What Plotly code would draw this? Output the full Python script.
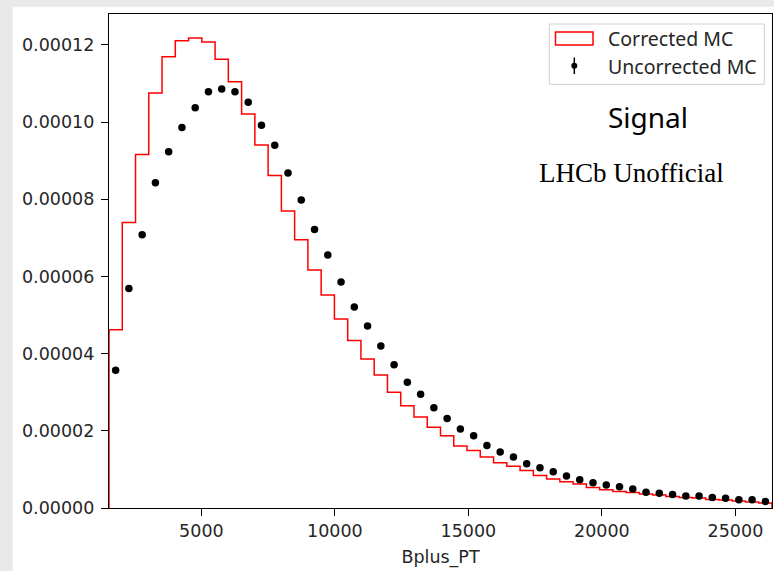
import numpy as np
import plotly.graph_objects as go

# ---------------- data ----------------
x_min, x_max, n_bins = 1540.0, 26370.0, 50

corrected_mc = [
    4.62e-5, 7.40e-5, 9.16e-5, 1.0756e-4, 1.1697e-4, 1.211e-4, 1.218e-4, 1.208e-4, 1.163e-4, 1.105e-4,
    1.021e-4, 9.41e-5, 8.62e-5, 7.70e-5, 6.95e-5, 6.17e-5, 5.52e-5, 4.90e-5, 4.34e-5, 3.86e-5,
    3.45e-5, 3.00e-5, 2.65e-5, 2.36e-5, 2.09e-5, 1.87e-5, 1.61e-5, 1.49e-5, 1.32e-5, 1.17e-5,
    1.08e-5, 9.7e-6, 8.4e-6, 7.5e-6, 6.8e-6, 6.2e-6, 5.3e-6, 4.7e-6, 4.3e-6, 4.0e-6,
    3.6e-6, 3.4e-6, 3.0e-6, 2.75e-6, 2.6e-6, 2.2e-6, 2.1e-6, 1.8e-6, 1.55e-6, 1.3e-6,
]

uncorrected_mc = [
    3.57e-5, 5.69e-5, 7.08e-5, 8.43e-5, 9.23e-5, 9.86e-5, 1.0375e-4, 1.079e-4, 1.086e-4, 1.079e-4,
    1.0515e-4, 9.92e-5, 9.40e-5, 8.68e-5, 7.98e-5, 7.22e-5, 6.56e-5, 5.86e-5, 5.21e-5, 4.72e-5,
    4.20e-5, 3.71e-5, 3.26e-5, 2.95e-5, 2.60e-5, 2.32e-5, 2.05e-5, 1.87e-5, 1.62e-5, 1.45e-5,
    1.32e-5, 1.15e-5, 1.04e-5, 9.4e-6, 8.3e-6, 7.3e-6, 6.55e-6, 5.96e-6, 5.5e-6, 4.9e-6,
    4.1e-6, 3.8e-6, 3.5e-6, 3.1e-6, 3.1e-6, 2.75e-6, 2.5e-6, 2.15e-6, 2.15e-6, 1.7e-6,
]

x_tick_vals = [5000, 10000, 15000, 20000, 25000]
y_tick_vals = [0.0, 0.00002, 0.00004, 0.00006, 0.00008, 0.00010, 0.00012]
y_top = 1.2803e-4

x_title = "Bplus_PT"
legend_labels = ["Corrected MC", "Uncorrected MC"]
label_signal = "Signal"
label_lhcb = "LHCb Unofficial"

# ---------------- build ----------------
edges = np.linspace(x_min, x_max, n_bins + 1)
centers = 0.5 * (edges[:-1] + edges[1:])

step_x = [edges[0]] + list(edges) + [edges[-1]]
step_y = [0.0] + list(corrected_mc) + [corrected_mc[-1], 0.0]
step_x = [edges[0], edges[0]] + list(edges[1:]) + [edges[-1]]
step_y = [0.0] + list(corrected_mc) + [corrected_mc[-1], 0.0]

W, H = 774, 571
L, R, T, B = 109, 772, 14, 508


def xp(px):
    return (px - L) / (R - L)


def yp(py):
    return (B - py) / (B - T)


fig = go.Figure()
fig.add_trace(go.Scatter(
    x=step_x, y=step_y, mode="lines", line=dict(color="#ff0000", width=1.5, shape="hv"),
    name=legend_labels[0], showlegend=False, hoverinfo="skip",
))
fig.add_trace(go.Scatter(
    x=centers, y=uncorrected_mc, mode="markers",
    marker=dict(color="black", size=7.5, line=dict(width=0)),
    name=legend_labels[1], showlegend=False, cliponaxis=False,
))

tick_font = dict(family="DejaVu Sans", size=17.5, color="#262626")

fig.update_xaxes(
    range=[x_min, x_max], tickvals=x_tick_vals, tickformat="d",
    showline=True, linecolor="black", linewidth=1.3, mirror=True,
    ticks="outside", ticklen=7, tickwidth=1.3, tickcolor="black",
    showgrid=False, zeroline=False, tickfont=tick_font,
    title=dict(text=x_title, font=tick_font, standoff=10),
)
fig.update_yaxes(
    range=[0, y_top], tickvals=y_tick_vals, tickformat=".5f",
    showline=True, linecolor="black", linewidth=1.3, mirror=True,
    ticks="outside", ticklen=7, tickwidth=1.3, tickcolor="black",
    showgrid=False, zeroline=False, tickfont=tick_font, ticklabelstandoff=3,
)

shapes = []
# white figure area over the grey frame
shapes.append(dict(type="rect", xref="paper", yref="paper", layer="below",
                   x0=xp(12.7), x1=xp(790), y0=yp(6.7), y1=yp(600),
                   fillcolor="white", line=dict(width=0)))
# legend box
shapes.append(dict(type="rect", xref="paper", yref="paper",
                   x0=xp(549.3), x1=xp(764.3), y0=yp(24), y1=yp(84.3),
                   fillcolor="rgba(255,255,255,0.8)", line=dict(color="#d0d0d0", width=1)))
# legend key: red hist patch
shapes.append(dict(type="rect", xref="paper", yref="paper",
                   x0=xp(555.5), x1=xp(593), y0=yp(32), y1=yp(45),
                   fillcolor="rgba(0,0,0,0)", line=dict(color="#ff0000", width=1.5)))
# legend key: errorbar marker
shapes.append(dict(type="line", xref="paper", yref="paper",
                   x0=xp(574.3), x1=xp(574.3), y0=yp(57.5), y1=yp(74),
                   line=dict(color="black", width=1.5)))
shapes.append(dict(type="circle", xref="paper", yref="paper",
                   x0=xp(571.3), x1=xp(577.3), y0=yp(62.7), y1=yp(68.7),
                   fillcolor="black", line=dict(width=0)))

legend_font = dict(family="Noto Sans", size=19.5, color="#262626")
annotations = [
    dict(text=legend_labels[0], xref="paper", yref="paper", x=xp(606), y=yp(38),
         xanchor="left", yanchor="middle", showarrow=False, font=legend_font),
    dict(text=legend_labels[1], xref="paper", yref="paper", x=xp(606), y=yp(66),
         xanchor="left", yanchor="middle", showarrow=False, font=legend_font),
    dict(text=label_signal, xref="paper", yref="paper", x=xp(648), y=yp(117),
         xanchor="center", yanchor="middle", showarrow=False,
         font=dict(family="Noto Sans", size=28, color="black")),
    dict(text=label_lhcb, xref="paper", yref="paper", x=xp(631), y=yp(173),
         xanchor="center", yanchor="middle", showarrow=False,
         font=dict(family="Liberation Serif", size=27, color="black")),
]

fig.update_layout(
    width=W, height=H,
    margin=dict(l=L, r=W - R, t=T, b=H - B, pad=0),
    paper_bgcolor="#e9e9e9", plot_bgcolor="white",
    shapes=shapes, annotations=annotations, showlegend=False,
)

fig.write_html("out.html")
